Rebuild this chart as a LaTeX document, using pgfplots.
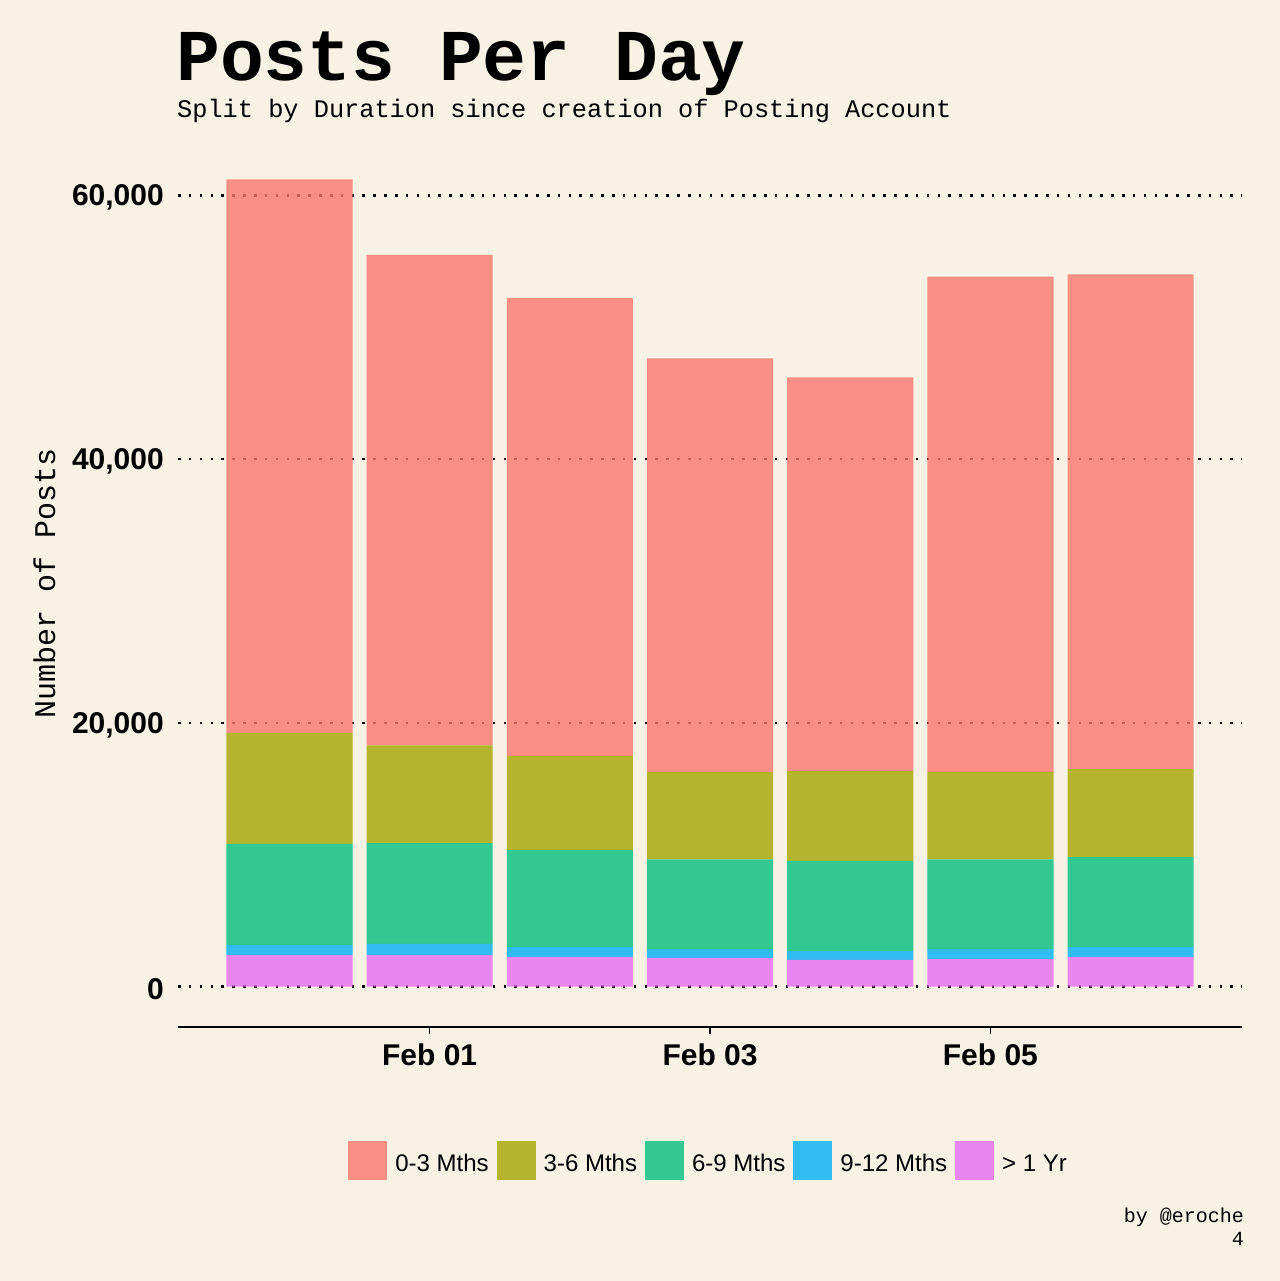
\documentclass[border=0pt]{standalone}
\usepackage{fontspec}
\setmainfont{Liberation Sans}
\newfontfamily\mono{Liberation Mono}
\usepackage{pgfplots}
\usepackage{pgfplotstable}
\pgfplotsset{compat=1.18}
\definecolor{bg}{HTML}{F8F2E4}
\definecolor{cA}{HTML}{F8766D}
\definecolor{cB}{HTML}{A3A500}
\definecolor{cC}{HTML}{00BF7D}
\definecolor{cD}{HTML}{00B0F6}
\definecolor{cE}{HTML}{E76BF3}
\pgfplotstableread{
x yr1 m912 m69 m36 m03
0 2400 760 7670 8410 41970
1 2400 840 7650 7400 37200
2 2230 760 7390 7120 34730
3 2180 660 6820 6610 31360
4 2030 660 6840 6820 29850
5 2080 780 6790 6640 37550
6 2230 760 6840 6670 37500
}\postdata
\begin{document}
\begin{tikzpicture}
\fill[bg] (0,0) rectangle (1280bp,-1281bp);
\path[use as bounding box] (0,0) rectangle (1280bp,-1281bp);
\begin{axis}[
  at={(178bp,-1027bp)}, anchor=south west,
  scale only axis, width=1064bp, height=888bp,
  xmin=-0.795, xmax=6.795, ymin=-3060, ymax=64272,
  ybar stacked, bar width=0.9,
  axis lines*=left,
  y axis line style={draw=none},
  x axis line style={line width=2.3bp, black},
  xtick={1,3,5}, xticklabels={Feb 01,Feb 03,Feb 05},
  ytick={0,20000,40000,60000},
  scaled y ticks=false,
  ymajorgrids,
  grid style={black, line width=2.6bp, dash pattern=on 2.6bp off 8.25bp},
  tick align=outside, major tick length=7bp,
  xtick style={black, line width=1.5bp},
  ytick style={draw=none},
  /pgf/number format/assume math mode=true,
  /pgf/number format/1000 sep={,},
  ticklabel style={font=\fontsize{30bp}{30bp}\selectfont\bfseries, inner sep=0pt},
  yticklabel style={xshift=-7bp, yshift=-2.5bp},
  xticklabel style={yshift=-10bp},
  legend columns=5,
  reverse legend,
  legend style={at={(0.4977,-0.1503)}, anchor=center, draw=none, fill=none,
    inner sep=0pt, outer sep=0pt, column sep=8bp,
    font=\fontsize{24bp}{24bp}\selectfont, nodes={inner sep=0pt}},
  legend cell align=left,
  legend image code/.code={\fill[#1] (0bp,-16bp) rectangle (39bp,23bp);},
]
\addplot[fill=cE, fill opacity=0.8, draw=none] table[x=x,y=yr1]{\postdata};
\addlegendentry{> 1 Yr}
\addplot[fill=cD, fill opacity=0.8, draw=none] table[x=x,y=m912]{\postdata};
\addlegendentry{9-12 Mths}
\addplot[fill=cC, fill opacity=0.8, draw=none] table[x=x,y=m69]{\postdata};
\addlegendentry{6-9 Mths}
\addplot[fill=cB, fill opacity=0.8, draw=none] table[x=x,y=m36]{\postdata};
\addlegendentry{3-6 Mths}
\addplot[fill=cA, fill opacity=0.8, draw=none] table[x=x,y=m03]{\postdata};
\addlegendentry{0-3 Mths}
\end{axis}
\node[anchor=base west, inner sep=0pt, font=\mono\bfseries\fontsize{73bp}{73bp}\selectfont] at (176bp,-80bp) {Posts Per Day};
\node[anchor=base west, inner sep=0pt, font=\mono\fontsize{25.3bp}{25.3bp}\selectfont] at (177bp,-117bp) {Split by Duration since creation of Posting Account};
\node[rotate=90, anchor=base, inner sep=0pt, font=\mono\fontsize{30bp}{30bp}\selectfont] at (55bp,-583bp) {Number of Posts};
\node[anchor=base east, inner sep=0pt, font=\mono\fontsize{20bp}{20bp}\selectfont] at (1244bp,-1222bp) {by @eroche};
\node[anchor=base east, inner sep=0pt, font=\mono\fontsize{20bp}{20bp}\selectfont] at (1244bp,-1245bp) {4};
\end{tikzpicture}
\end{document}
